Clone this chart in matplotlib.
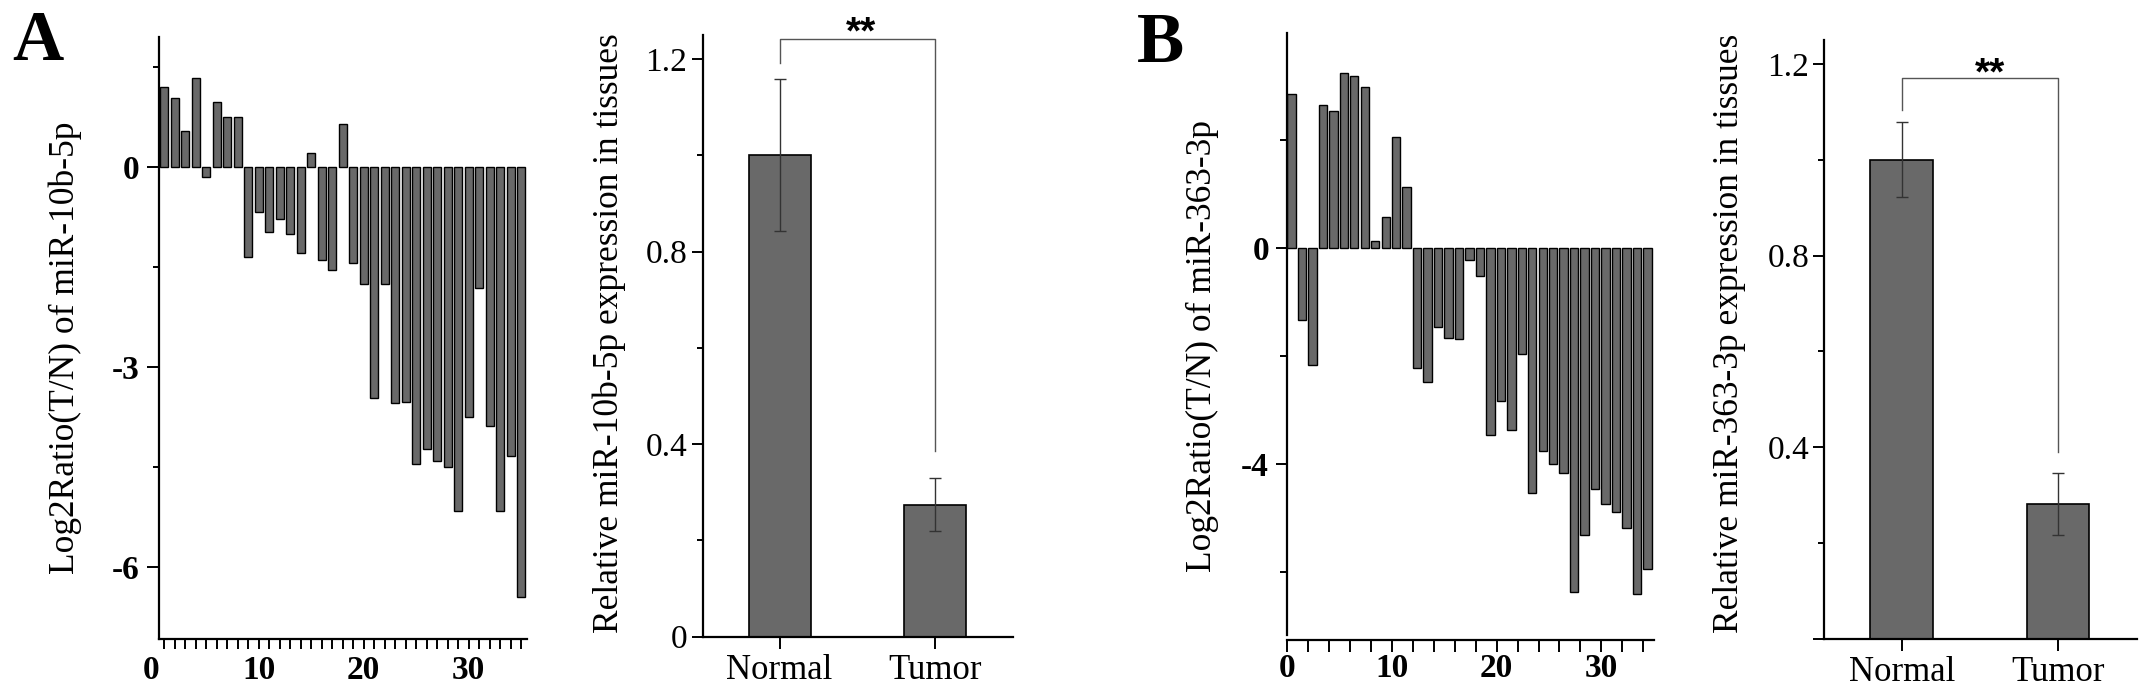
import matplotlib
matplotlib.use('Agg')
import matplotlib.pyplot as plt

plt.rcParams['font.family'] = ['Liberation Serif', 'DejaVu Serif']

# ---------------- data ----------------
# Panel A: miR-10b-5p
a_cases = list(range(1, 36))
a_ratio = [1.21, 1.04, 0.545, 1.345, -0.15, 0.98, 0.755, 0.75, -1.345, -0.67,
           -0.975, -0.785, -1.0, -1.29, 0.215, -1.39, -1.55, 0.645, -1.435, -1.755,
           -3.46, -1.75, -3.54, -3.53, -4.45, -4.23, -4.41, -4.50, -5.17, -3.75,
           -1.82, -3.88, -5.17, -4.34, -6.46]
groups = ['Normal', 'Tumor']
a_expr = [1.0, 0.274]
a_err = [0.158, 0.055]
a_sig = [1.192, 1.241, 0.386]   # left leg end, bracket top, right leg end

# Panel B: miR-363-3p
b_cases = list(range(0, 35))
b_ratio = [2.87, -1.325, -2.17, 2.66, 2.545, 3.25, 3.195, 3.0, 0.142, 0.576,
           2.06, 1.145, -2.23, -2.48, -1.47, -1.67, -1.68, -0.22, -0.52, -3.46,
           -2.84, -3.38, -1.97, -4.54, -3.76, -4.01, -4.18, -6.37, -5.32, -4.47,
           -4.75, -4.89, -5.19, -6.41, -5.95]
b_expr = [1.0, 0.282]
b_err = [0.078, 0.064]
b_sig = [1.104, 1.170, 0.390]

W, H = 2150, 696
fig = plt.figure(figsize=(W / 100, H / 100), dpi=100)


def px_rect(l, r, t, b):
    return [l / W, 1 - b / H, (r - l) / W, (b - t) / H]


BAR_FC = '#696969'
SPINE_LW = 1.6
TICK_FS = 24
LABEL_FS = 25.5


def style(ax):
    for s in ('top', 'right'):
        ax.spines[s].set_visible(False)
    for s in ('left', 'bottom'):
        ax.spines[s].set_linewidth(SPINE_LW)
        ax.spines[s].set_color('black')


def waterfall(ax, cases, vals, align):
    ax.bar(cases, vals, width=0.8 if align == 'edge' else 0.78, align=align,
           color=BAR_FC, edgecolor='black', linewidth=1.0)


def grouped(ax, vals, errs, sig, star_x, star_y, show_zero):
    x = list(range(len(groups)))
    ax.bar(x, vals, width=0.4, color=BAR_FC, edgecolor='black', linewidth=1.2,
           yerr=errs, error_kw=dict(ecolor='#333333', elinewidth=1.0,
                                    capsize=4.4, capthick=1.0))
    ax.set_xlim(-0.495, 1.503)
    ax.set_ylim(0, 1.25)
    ax.set_xticks(x)
    ax.set_xticklabels(groups, fontsize=LABEL_FS - 0.5)
    ax.set_yticks([0, 0.4, 0.8, 1.2])
    ax.set_yticklabels(['0' if show_zero else '', '0.4', '0.8', '1.2'],
                       fontsize=24)
    ax.set_yticks([0.2, 0.6, 1.0], minor=True)
    ax.tick_params(axis='y', which='major', direction='out', length=8,
                   width=1.4, pad=3)
    ax.tick_params(axis='y', which='minor', direction='out', length=4.6,
                   width=1.4)
    ax.tick_params(axis='x', which='major', direction='out', length=8.5,
                   width=1.4, pad=4)
    ax.plot([0, 0, 1, 1], [sig[0], sig[1], sig[1], sig[2]], color='#555555',
            lw=1.0, clip_on=False)
    ax.text(star_x, star_y, '**', ha='center', va='baseline', fontsize=28,
            fontweight='bold', family=['Liberation Sans', 'DejaVu Sans'],
            clip_on=False)


# ---------------- Panel A left ----------------
axA1 = fig.add_axes(px_rect(159.3, 526.8, 36.7, 639.3))
style(axA1)
waterfall(axA1, a_cases, a_ratio, 'center')
axA1.set_xlim(0.543, 35.54)
axA1.set_ylim(-7.09, 1.96)
axA1.set_yticks([0, -3, -6])
axA1.set_yticklabels(['0', '-3', '-6'], fontsize=TICK_FS, fontweight='bold')
axA1.set_yticks([1.5, -1.5, -4.5], minor=True)
axA1.tick_params(axis='y', which='major', direction='out', length=9,
                 width=1.4, pad=5)
axA1.tick_params(axis='y', which='minor', direction='out', length=4.5,
                 width=1.4)
axA1.set_xticks([10, 20, 30])
axA1.set_xticklabels(['10', '20', '30'], fontsize=TICK_FS, fontweight='bold')
axA1.set_xticks([c for c in a_cases if c % 10 != 0], minor=True)
axA1.tick_params(axis='x', which='both', direction='out', length=7.5,
                 width=1.4, pad=4)
axA1.annotate('0', xy=(0, 0), xycoords=('data', 'axes fraction'),
              xytext=(-1.5, -11.5), textcoords='offset points', ha='center',
              va='top', fontsize=TICK_FS, fontweight='bold',
              annotation_clip=False)
axA1.set_ylabel('Log2Ratio(T/N) of miR-10b-5p', fontsize=LABEL_FS)
axA1.yaxis.label.set_va('center')
axA1.yaxis.set_label_coords(-0.2566, 0.484)

# ---------------- Panel A right ----------------
axA2 = fig.add_axes(px_rect(702.7, 1013, 35, 636.7))
style(axA2)
grouped(axA2, a_expr, a_err, a_sig, 0.523, 1.232, True)
axA2.set_ylabel('Relative miR-10b-5p expression in tissues', fontsize=LABEL_FS)
axA2.yaxis.label.set_va('center')
axA2.yaxis.set_label_coords(-0.302, 0.504)

# ---------------- Panel B left ----------------
axB1 = fig.add_axes(px_rect(1287.3, 1653.7, 32.7, 640))
style(axB1)
waterfall(axB1, b_cases, b_ratio, 'edge')
axB1.set_xlim(0, 35)
axB1.set_ylim(-7.27, 4.0)
axB1.spines['left'].set_bounds(-7.18, 4.0)
axB1.set_yticks([0, -4])
axB1.set_yticklabels(['0', '-4'], fontsize=TICK_FS, fontweight='bold')
axB1.set_yticks([2, -2, -6], minor=True)
axB1.tick_params(axis='y', which='major', direction='out', length=8.2,
                 width=1.4, pad=5)
axB1.tick_params(axis='y', which='minor', direction='out', length=5,
                 width=1.4)
axB1.set_xticks([0, 10, 20, 30])
axB1.set_xticklabels(['0', '10', '20', '30'], fontsize=TICK_FS,
                     fontweight='bold')
axB1.set_xticks([v for v in range(0, 35, 2) if v % 10 != 0], minor=True)
axB1.tick_params(axis='x', which='both', direction='out', length=8.4,
                 width=1.4, pad=1)
axB1.set_ylabel('Log2Ratio(T/N) of miR-363-3p', fontsize=LABEL_FS)
axB1.yaxis.label.set_va('center')
axB1.yaxis.set_label_coords(-0.2328, 0.4833)

# ---------------- Panel B right ----------------
axB2 = fig.add_axes(px_rect(1824.3, 2136.7, 40, 639))
style(axB2)
grouped(axB2, b_expr, b_err, b_sig, 0.565, 1.157, False)
axB2.set_ylabel('Relative miR-363-3p expression in tissues', fontsize=LABEL_FS)
axB2.yaxis.label.set_va('center')
axB2.yaxis.set_label_coords(-0.3019, 0.51)

# ---------------- panel letters ----------------
fig.text(12.5 / W, 1 - 60 / H, 'A', fontsize=51, fontweight='bold',
         ha='left', va='baseline')
fig.text(1137 / W, 1 - 61.7 / H, 'B', fontsize=51, fontweight='bold',
         ha='left', va='baseline')

fig.savefig('out.png', dpi=100, facecolor='white')
